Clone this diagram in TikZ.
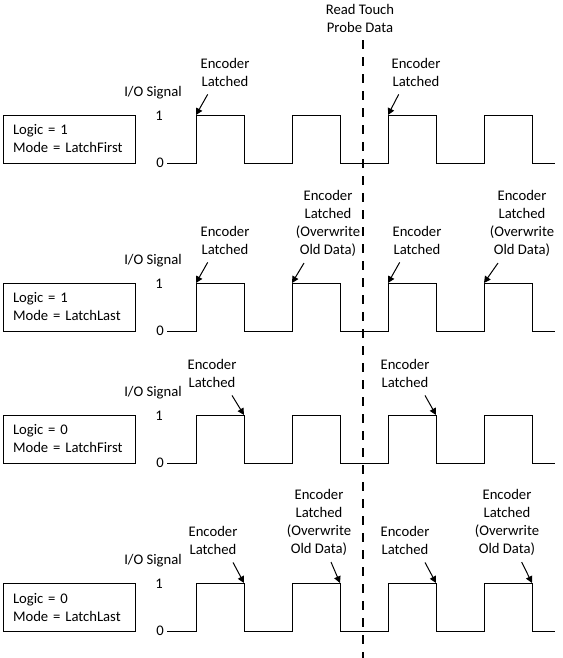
\documentclass[tikz,border=0pt]{standalone}
\usepackage{fontspec}
\setmainfont{Carlito}
\usepackage{tikz}
\usetikzlibrary{positioning, arrows.meta}

\begin{document}
\begin{tikzpicture}[
        x=0.75pt, y=-0.75pt,
        font=\fontsize{11}{13.5}\selectfont,
        modebox/.style={rectangle, draw, line width=0.75pt, align=left, text width=84pt, inner xsep=7.5pt, minimum height=36pt},
        note/.style={align=center, inner sep=1pt},
        lvl/.style={inner sep=1pt},
        wave/.style={line width=0.75pt},
        ptr/.style={-{Triangle[length=5pt, width=5pt]}, line width=0.75pt},
        marker/.style={line width=1.9pt, dash pattern=on 7pt off 5.75pt}
    ]
        \useasboundingbox (0,0) rectangle (562,658);

        % Panels: waveform, level labels and mode box
        \foreach \h/\lg/\md/\p in {115/1/LatchFirst/a, 283/1/LatchLast/b, 415/0/LatchFirst/c, 583/0/LatchLast/d}{
            \pgfmathsetmacro\l{\h+48}
            \node[modebox] (\p-box) at (69,\h+24) {Logic = \lg\\Mode = \md};
            \node[lvl] (\p-sig) at (153,\h-22) {I/O Signal};
            \node[lvl] (\p-one) at (159,\h+1) {1};
            \node[lvl] (\p-zero) at (160,\l) {0};
            \draw[wave] (167,\l) \foreach \k in {0,...,3}{
                -- ({196+96*\k},\l) -- ({196+96*\k},\h) -- ({244+96*\k},\h) -- ({244+96*\k},\l)
            } -- (555,\l);
            \foreach \k in {1,...,4}{
                \coordinate (\p-r\k) at ({196+96*(\k-1)},\h);
                \coordinate (\p-f\k) at ({244+96*(\k-1)},\h);
            }
        }

        % Read touch probe marker
        \node[note] (probe) at (360,18.5) {Read Touch\\Probe Data};
        \coordinate (mark-top) at (363,40);
        \coordinate (mark-bot) at (363,658);
        \draw[marker] (mark-top) -- (mark-bot);

        % Logic = 1, LatchFirst
        \node[note] (a1) at (225,72) {Encoder\\Latched};
        \node[note] (a3) at (416,72) {Encoder\\Latched};
        \draw[ptr] ([xshift=-13pt, yshift=-5pt]a1.south) -- (a-r1);
        \draw[ptr] ([xshift=-13pt, yshift=-5pt]a3.south) -- (a-r3);

        % Logic = 1, LatchLast
        \node[note] (b1) at (225,240) {Encoder\\Latched};
        \node[note] (b2) at (328,223) {Encoder\\Latched\\(Overwrite\\Old Data)};
        \node[note] (b3) at (417,240) {Encoder\\Latched};
        \node[note] (b4) at (522,223) {Encoder\\Latched\\(Overwrite\\Old Data)};
        \draw[ptr] ([xshift=-13pt, yshift=-5pt]b1.south) -- (b-r1);
        \draw[ptr] ([xshift=-18pt, yshift=-4pt]b2.south) -- (b-r2);
        \draw[ptr] ([xshift=-13pt, yshift=-5pt]b3.south) -- (b-r3);
        \draw[ptr] ([xshift=-18pt, yshift=-4pt]b4.south) -- (b-r4);

        % Logic = 0, LatchFirst
        \node[note] (c1) at (212,373) {Encoder\\Latched};
        \node[note] (c3) at (405,373) {Encoder\\Latched};
        \draw[ptr] ([xshift=15pt, yshift=-5pt]c1.south) -- (c-f1);
        \draw[ptr] ([xshift=15pt, yshift=-5pt]c3.south) -- (c-f3);

        % Logic = 0, LatchLast
        \node[note] (d1) at (213,540) {Encoder\\Latched};
        \node[note] (d2) at (319,522) {Encoder\\Latched\\(Overwrite\\Old Data)};
        \node[note] (d3) at (405,540) {Encoder\\Latched};
        \node[note] (d4) at (507,522) {Encoder\\Latched\\(Overwrite\\Old Data)};
        \draw[ptr] ([xshift=15pt, yshift=-5pt]d1.south) -- (d-f1);
        \draw[ptr] ([xshift=9pt, yshift=-4pt]d2.south) -- (d-f2);
        \draw[ptr] ([xshift=15pt, yshift=-5pt]d3.south) -- (d-f3);
        \draw[ptr] ([xshift=11pt, yshift=-4pt]d4.south) -- (d-f4);
    \end{tikzpicture}
\end{document}
